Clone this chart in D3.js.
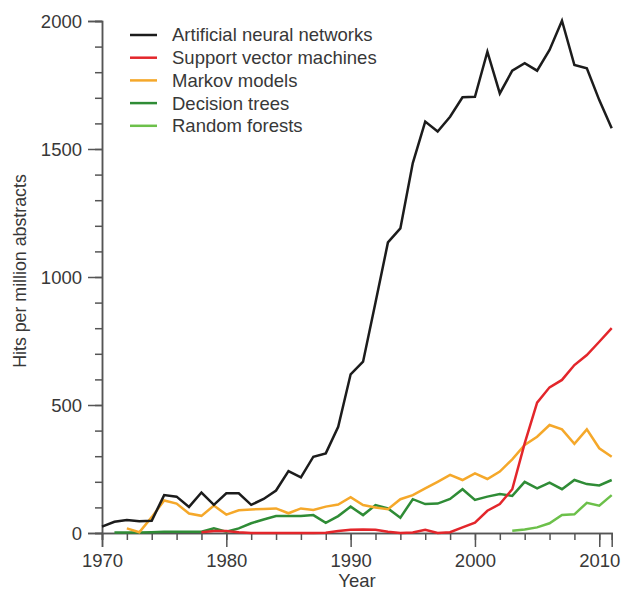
<!DOCTYPE html>
<html><head><meta charset="utf-8">
<script src="https://cdn.jsdelivr.net/npm/d3@7"></script>
<style>
html,body{margin:0;padding:0;background:#fff;}
svg{display:block;font-family:"Liberation Sans",Arial,Helvetica,sans-serif;}
</style></head>
<body>
<svg id="chart" width="624" height="590"></svg>
<script>
// ---- data ----
const annYears = d3.range(1970, 2012);
const annValues = [25,44,51,46,48,148,142,102,158,110,155,155,110,133,166,242,217,298,311,415,620,669,900,1135,1190,1445,1607,1568,1626,1702,1704,1880,1717,1806,1835,1806,1887,2001,1828,1815,1691,1581];

const svmYears = d3.range(1978, 2012);
const svmValues = [3,8,8,3,0,0,0,0,0,0,1,8,13,14,13,5,0,2,13,0,3,22,40,87,113,171,350,509,569,598,656,695,747,800];

const markovYears = d3.range(1972, 2012);
const markovValues = [18,3,62,127,115,76,67,107,72,89,92,94,96,77,96,90,103,111,140,109,100,93,132,148,174,200,227,207,233,211,240,288,344,376,422,405,348,405,331,298];

const dtYears = d3.range(1971, 2012);
const dtValues = [2,2,2,3,5,5,5,5,18,5,18,38,53,66,66,66,70,40,66,103,70,109,96,60,132,113,115,133,171,129,142,152,145,200,174,197,171,207,191,186,207];

const rfYears = d3.range(2003, 2012);
const rfValues = [9,14,22,38,70,73,118,107,148];

const seriesNames = ["Artificial neural networks","Support vector machines","Markov models","Decision trees","Random forests"];
const seriesColors = ["#1c1c1c","#e3262b","#f5a82a","#2f8c36","#6cc04a"];
const seriesYears = [annYears, svmYears, markovYears, dtYears, rfYears];
const seriesValues = [annValues, svmValues, markovValues, dtValues, rfValues];

const xTickMajor = [1970,1980,1990,2000,2010];
const yTickMajor = [0,500,1000,1500,2000];

// ---- layout ----
const svg = d3.select("#chart");
const x = d3.scaleLinear().domain([1970, 2011]).range([102, 611.7]);
const y = d3.scaleLinear().domain([0, 2000]).range([533, 21]);
const axisColor = "#555";
const textColor = "#383838";
const fs = 18.5;

// y axis
const yAxisMinor = d3.axisLeft(y).tickValues(d3.range(0, 2001, 100)).tickSize(7).tickFormat("");
const gyMinor = svg.append("g").attr("transform","translate(102,0)").call(yAxisMinor);
const yAxisMajor = d3.axisLeft(y).tickValues(yTickMajor).tickSize(14).tickPadding(6).tickFormat(d3.format("d"));
const gy = svg.append("g").attr("transform","translate(102,0)").call(yAxisMajor);

// x axis
const xAxisMinor = d3.axisBottom(x).tickValues(d3.range(1970, 2012, 2)).tickSize(7).tickFormat("");
const gxMinor = svg.append("g").attr("transform","translate(0,533)").call(xAxisMinor);
const xAxisMajor = d3.axisBottom(x).tickValues(xTickMajor).tickSize(14).tickPadding(6).tickFormat(d3.format("d"));
const gx = svg.append("g").attr("transform","translate(0,533)").call(xAxisMajor);

[gyMinor, gy, gxMinor, gx].forEach(g => {
  g.selectAll(".domain").attr("stroke", axisColor).attr("stroke-width", 1.5);
  g.selectAll(".tick line").attr("stroke", axisColor).attr("stroke-width", 1.5);
  g.selectAll(".tick text").attr("fill", textColor).style("font-size", fs + "px").style("font-family", "Liberation Sans, Arial, sans-serif");
});
gy.selectAll(".tick text").attr("dy", "0.35em");
gx.selectAll(".tick text").attr("dy", "0.75em");

// axis titles
svg.append("text").attr("x", 357).attr("y", 587).attr("text-anchor","middle")
  .attr("fill", textColor).style("font-size", fs + "px").text("Year");
svg.append("text").attr("transform","translate(26,271) rotate(-90)").attr("text-anchor","middle")
  .attr("fill", textColor).style("font-size", "17.8px").text("Hits per million abstracts");

// lines
const line = d3.line().x(d => x(d[0])).y(d => y(d[1]));
// draw order: forests, trees, markov, svm, ann
[4,3,2,1,0].forEach(i => {
  const pts = seriesYears[i].map((yr, j) => [yr, seriesValues[i][j]]);
  svg.append("path").datum(pts).attr("d", line)
    .attr("fill","none").attr("stroke", seriesColors[i])
    .attr("stroke-width", 2.5).attr("stroke-linejoin","miter").attr("stroke-linecap","butt");
});

// legend
const legend = svg.append("g");
seriesNames.forEach((name, i) => {
  const cy = 35 + i * 22.7;
  legend.append("line").attr("x1",130).attr("x2",157).attr("y1",cy).attr("y2",cy)
    .attr("stroke", seriesColors[i]).attr("stroke-width", 2.5);
  legend.append("text").attr("x",172).attr("y",cy).attr("dy","0.35em")
    .attr("fill", textColor).style("font-size", fs + "px").text(name);
});
</script>
</body></html>
